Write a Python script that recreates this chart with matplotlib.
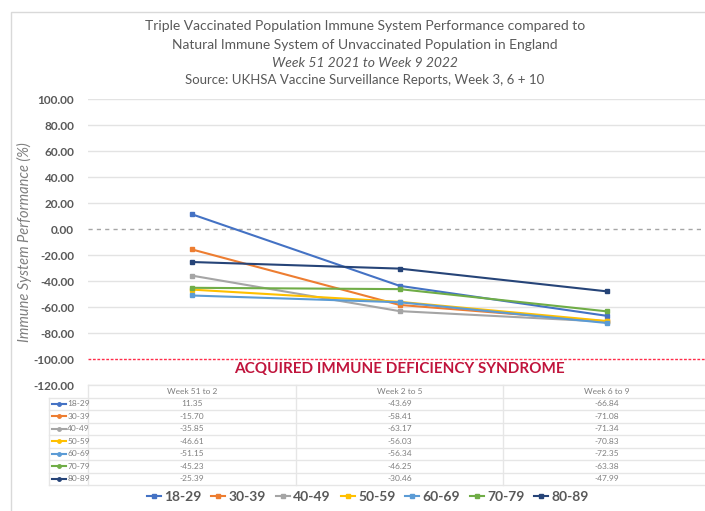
import matplotlib
matplotlib.use("Agg")
from matplotlib import pyplot as plt
import numpy as np

plt.rcParams['font.family'] = ['Lato', 'DejaVu Sans']

periods = ["Week 51 to 2", "Week 2 to 5", "Week 6 to 9"]
ages = ["18-29", "30-39", "40-49", "50-59", "60-69", "70-79", "80-89"]
perf = [
    [11.35, -43.69, -66.84],
    [-15.70, -58.41, -71.08],
    [-35.85, -63.17, -71.34],
    [-46.61, -56.03, -70.83],
    [-51.15, -56.34, -72.35],
    [-45.23, -46.25, -63.38],
    [-25.39, -30.46, -47.99],
]
colors = ["#4472C4", "#ED7D31", "#A5A5A5", "#FFC000", "#5B9BD5", "#70AD47", "#264478"]
yticks = np.arange(-120, 101, 20)

W, H = 705, 511
fig = plt.figure(figsize=(W / 100, H / 100), dpi=100)

def px(x0, y0, x1, y1):
    # pixel box (top-left origin) -> figure fraction
    return [x0 / W, 1 - y1 / H, (x1 - x0) / W, (y1 - y0) / H]

# chart border
fig.patches.append(plt.Rectangle((11 / W, -0.1), 1.2, 1 - 12 / H + 0.1, transform=fig.transFigure,
                                 fill=False, edgecolor="#D9D9D9", lw=1))

ax = fig.add_axes(px(88, 99, 711, 385))
x = np.arange(len(periods))
for i, age in enumerate(ages):
    ax.plot(x, perf[i], color=colors[i], lw=1.5, marker="s", ms=3, label=age, zorder=3)

ax.set_xlim(-0.5, len(periods) - 0.5)
ax.set_ylim(-120, 100)
ax.set_yticks(yticks)
ax.set_yticklabels([f"{v:.2f}" for v in yticks], fontsize=8.5, color="#595959", fontweight="bold")
ax.set_xticks([])
ax.tick_params(axis="y", length=0, pad=10)
for s in ax.spines.values():
    s.set_visible(False)
for v in yticks:
    if v == 0:
        ax.axhline(v, color="#A6A6A6", lw=1, ls=(0, (3, 3)), zorder=1)
    elif v == -100:
        ax.axhline(v, color="#FF2D4A", lw=1, ls=(0, (2, 1.2)), zorder=1)
    else:
        ax.axhline(v, color="#E3E3E3", lw=1, zorder=0)
ax.text(1, -102.5, "ACQUIRED IMMUNE DEFICIENCY SYNDROME", color="#C0143C", fontsize=11,
        fontweight="bold", ha="center", va="top")
ax.set_ylabel("Immune System Performance (%)", fontsize=10.5, style="italic", color="#7F7F7F")
ax.yaxis.set_label_coords(-0.09, 0.5)

# data table below the chart
tab = fig.add_axes(px(88, 385, 711, 485))
tab.set_xlim(-0.5, len(periods) - 0.5)
nrows = len(ages) + 1
tab.set_ylim(nrows, 0)
tab.axis("off")
lc = "#E6E6E6"
for r in range(nrows + 1):
    x0 = -0.5 if r == 0 else -0.69
    tab.plot([x0, 2.5], [r, r], color=lc, lw=1, clip_on=False)
for c in range(len(periods) + 1):
    tab.plot([c - 0.5, c - 0.5], [0, nrows], color=lc, lw=1, clip_on=False)
tab.plot([-0.69, -0.69], [1, nrows], color=lc, lw=1, clip_on=False)
for c, p in enumerate(periods):
    tab.text(c, 0.5, p, ha="center", va="center", fontsize=6, color="#7F7F7F")
for i, age in enumerate(ages):
    for c in range(len(periods)):
        tab.text(c, i + 1.5, f"{perf[i][c]:.2f}", ha="center", va="center", fontsize=6,
                 color="#7F7F7F")
    tab.plot([-0.675, -0.605], [i + 1.5, i + 1.5], color=colors[i], lw=1.5, clip_on=False)
    tab.plot([-0.64], [i + 1.5], marker="o", ms=2.5, color=colors[i], clip_on=False)
    tab.text(-0.6, i + 1.5, age, ha="left", va="center", fontsize=6, color="#7F7F7F")

# legend
h, l = ax.get_legend_handles_labels()
fig.legend(h, l, loc="center", bbox_to_anchor=(368 / W, 1 - 497 / H), ncol=7, frameon=False,
           handlelength=1.0, handletextpad=0.25, columnspacing=0.7,
           labelcolor="#595959", prop={"weight": "bold", "size": 10})

# titles
tc = "#595959"
fig.text(365 / W, 1 - 26 / H, "Triple Vaccinated Population Immune System Performance compared to",
         ha="center", va="center", fontsize=10, color=tc)
fig.text(365 / W, 1 - 45 / H, "Natural Immune System of Unvaccinated Population in England",
         ha="center", va="center", fontsize=10, color=tc)
fig.text(365 / W, 1 - 63 / H, "Week 51 2021 to Week 9 2022",
         ha="center", va="center", fontsize=10, color=tc, style="italic")
fig.text(365 / W, 1 - 80 / H, "Source: UKHSA Vaccine Surveillance Reports, Week 3, 6 + 10",
         ha="center", va="center", fontsize=9.5, color=tc)

fig.savefig("out.png", dpi=100)
